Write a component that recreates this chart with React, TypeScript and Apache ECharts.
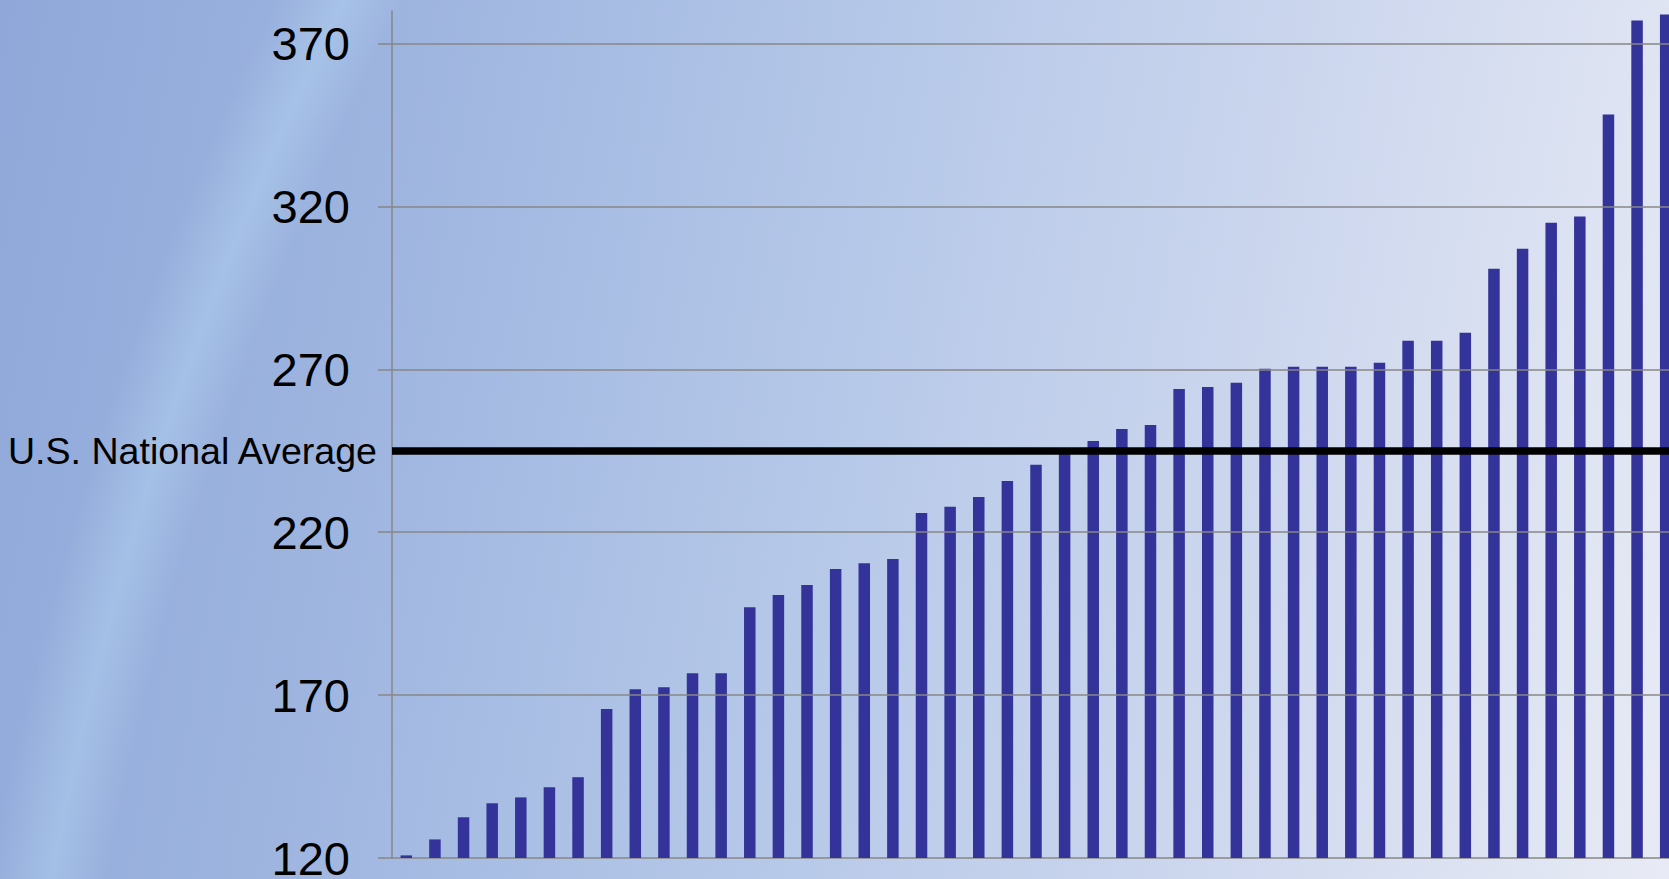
import React, { useEffect, useRef } from "react";
import * as echarts from "echarts";

// Ranked values (45 bars, left to right)
const values: number[] = [
  120.8, 125.7, 132.5, 136.8, 138.6, 141.7, 144.8, 165.7, 171.8, 172.4,
  176.7, 176.7, 197.0, 200.7, 203.8, 208.7, 210.5, 211.8, 225.9, 227.8,
  230.8, 235.7, 240.7, 244.8, 248.0, 251.7, 252.9, 264.0, 264.6, 265.9,
  270.2, 270.8, 270.8, 270.8, 272.0, 278.8, 278.8, 281.2, 300.9, 307.0,
  315.0, 316.9, 348.2, 377.1, 378.9,
];
const categories: string[] = values.map((_, i) => String(i + 1));
const tickValues: number[] = [120, 170, 220, 270, 320, 370];
const gridValues: number[] = [170, 220, 270, 320, 370];
const nationalAverage = 245;
const averageLabel = "U.S. National Average";
const yMin = 120;
const yMax = 380;

const FONT = '"Liberation Sans", Arial, Helvetica, sans-serif';

export default function App() {
  const ref = useRef<HTMLDivElement>(null);

  useEffect(() => {
    if (!ref.current) return;
    const chart = echarts.init(ref.current, undefined, { renderer: "svg" });
    chart.setOption({
      animation: false,
      backgroundColor: "transparent",
      grid: {
        left: 392,
        right: 0,
        top: 11,
        bottom: 21,
        containLabel: false,
        outerBoundsMode: "none",
      },
      xAxis: {
        type: "category",
        data: categories,
        boundaryGap: true,
        axisLine: { show: true, lineStyle: { color: "#878787", width: 1.5 } },
        axisTick: { show: false },
        axisLabel: { show: false },
        splitLine: { show: false },
      },
      yAxis: {
        type: "value",
        min: yMin,
        max: yMax,
        interval: 50,
        axisLine: { show: true, lineStyle: { color: "#878787", width: 1.5 } },
        axisTick: {
          show: true,
          length: 14,
          inside: false,
          customValues: tickValues,
          lineStyle: { color: "#878787", width: 1.5 },
        },
        axisLabel: {
          show: true,
          customValues: tickValues,
          margin: 42,
          fontSize: 47,
          color: "#000",
          fontFamily: FONT,
        },
        splitLine: { show: false },
      },
      series: [
        {
          type: "line",
          data: [],
          z: 1,
          silent: true,
          markLine: {
            silent: true,
            symbol: "none",
            animation: false,
            label: { show: false },
            lineStyle: { color: "#878787", width: 1.5, type: "solid" },
            data: gridValues.map((v) => ({ yAxis: v })),
          },
        },
        {
          type: "line",
          data: [],
          z: 2,
          silent: true,
          markLine: {
            silent: true,
            symbol: "none",
            animation: false,
            lineStyle: { color: "#000", width: 7.5, type: "solid" },
            label: {
              show: true,
              position: "start",
              distance: 15,
              formatter: averageLabel,
              fontSize: 37.6,
              color: "#000",
              fontFamily: FONT,
            },
            data: [{ yAxis: nationalAverage }],
          },
        },
        {
          type: "bar",
          data: values,
          z: 3,
          barWidth: 11.5,
          itemStyle: { color: "#333399" },
        },
      ],
    });
    return () => chart.dispose();
  }, []);

  return (
    <div
      style={{
        position: "fixed",
        left: 0,
        top: 0,
        width: 1669,
        height: 879,
        overflow: "hidden",
        background:
          "radial-gradient(circle at 3288px 1468px, rgba(255,255,255,0) 3235px, rgba(185,218,245,0.4) 3290px, rgba(255,255,255,0) 3350px), linear-gradient(100deg, #8fa8d9 0%, #9db4df 22%, #b4c7e8 48%, #cdd7ee 74%, #e8ebf5 100%)",
      }}
    >
      <div ref={ref} style={{ width: 1680, height: 879 }} />
    </div>
  );
}
